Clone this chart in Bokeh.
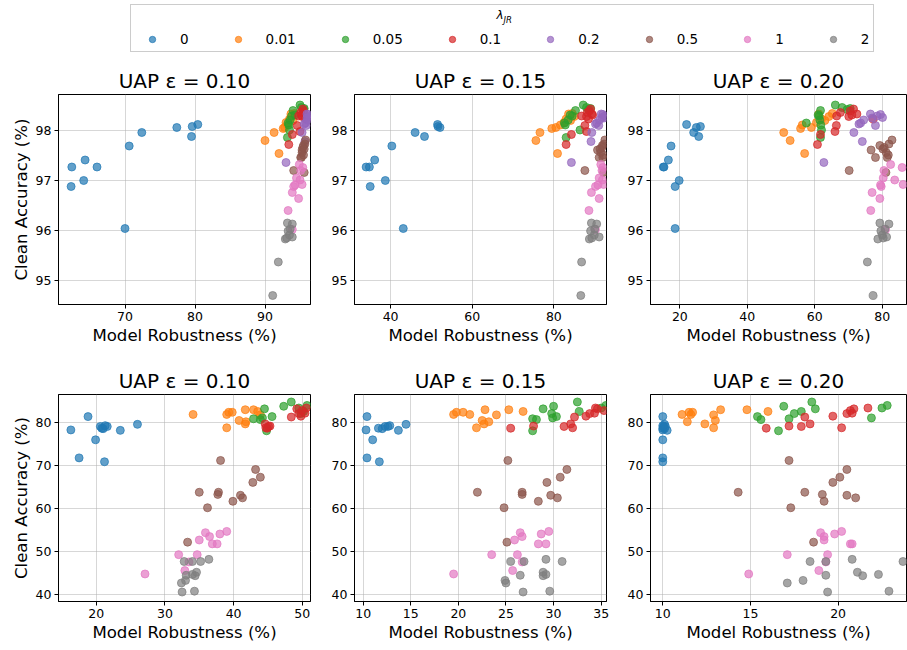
from bokeh.plotting import figure
from bokeh.layouts import column, row
from bokeh.models import Legend, LegendItem, FixedTicker, Range1d, Label
from bokeh.embed import file_html
from bokeh.resources import INLINE

# ---------------- data ----------------
LAMBDAS = ["0", "0.01", "0.05", "0.1", "0.2", "0.5", "1", "2"]
COLORS = ["#1f77b4", "#ff7f0e", "#2ca02c", "#d62728", "#9467bd", "#8c564b", "#e377c2", "#7f7f7f"]
EPS_TITLES = ["UAP ε = 0.10", "UAP ε = 0.15", "UAP ε = 0.20"]

# top row: clean accuracy (%) per lambda
top_acc = {
    "0": [97.26, 97.4, 97.26, 96.99, 96.87, 97.68, 97.95, 98.05, 98.07, 98.11, 97.87, 96.03],
    "0.01": [97.79, 97.95, 97.53, 98.03, 98.10, 98.32, 98.19, 98.27, 98.33, 98.22, 98.15, 98.05],
    "0.05": [98.14, 98.39, 98.28, 98.2, 98.1, 97.85, 98.5, 98.45, 98.41, 98.0, 98.3, 98.43],
    "0.1": [97.71, 97.91, 98.09, 98.28, 98.35, 98.27, 98.42, 98.32, 98.22, 98.38, 98.3, 97.97],
    "0.2": [97.35, 97.95, 97.77, 98.12, 98.32, 98.09, 98.31, 98.25, 98.24, 98.14, 98.2, 98.28],
    "0.5": [97.19, 97.6, 97.45, 97.69, 97.45, 97.8, 97.15, 97.72, 97.65, 97.55, 97.5, 97.62],
    "1": [97.31, 97.19, 97.25, 97.0, 97.04, 96.91, 96.87, 96.75, 96.63, 96.39, 96.01, 96.9],
    "2": [96.14, 96.12, 95.98, 95.82, 95.86, 95.9, 95.36, 94.69, 95.84, 96.02],
}
# top row: model robustness (%) for eps 0.10 / 0.15 / 0.20
top_rob_e010 = {
    "0": [62.4, 64.3, 66.0, 64.1, 62.3, 70.6, 72.4, 77.4, 79.6, 80.4, 79.5, 70.0],
    "0.01": [90.0, 91.3, 92.0, 92.6, 93.2, 93.7, 94.0, 93.8, 94.2, 93.5, 93.0, 92.8],
    "0.05": [93.3, 94.0, 93.8, 93.6, 93.4, 93.2, 95.0, 95.2, 95.5, 93.5, 94.3, 95.6],
    "0.1": [93.4, 93.9, 94.6, 94.8, 95.1, 95.3, 95.4, 95.6, 95.8, 95.5, 95.2, 95.0],
    "0.2": [93.0, 95.3, 95.7, 95.6, 96.0, 95.9, 96.2, 96.4, 96.0, 95.8, 96.1, 96.5],
    "0.5": [94.1, 95.3, 95.1, 95.5, 95.2, 95.8, 95.6, 95.7, 95.4, 95.3, 95.5, 95.6],
    "1": [94.9, 95.1, 95.4, 95.0, 94.5, 95.3, 94.1, 93.9, 94.8, 93.3, 93.9, 94.3],
    "2": [93.2, 93.9, 93.3, 92.9, 93.9, 93.5, 91.9, 91.1, 93.1, 93.6],
}
top_rob_e015 = {
    "0": [34.0, 36.1, 34.8, 38.7, 35.0, 40.3, 46.0, 52.1, 51.6, 51.5, 48.3, 43.1],
    "0.01": [75.6, 76.6, 80.9, 79.5, 81.6, 83.6, 84.1, 85.0, 84.5, 83.0, 82.5, 80.5],
    "0.05": [82.6, 85.3, 84.5, 83.5, 82.8, 83.0, 87.2, 88.0, 88.5, 86.4, 84.0, 89.0],
    "0.1": [83.0, 84.3, 87.6, 86.8, 88.2, 88.0, 89.0, 89.3, 88.5, 88.7, 89.5, 88.0],
    "0.2": [84.3, 89.3, 89.1, 90.2, 91.6, 91.0, 92.0, 91.8, 92.3, 90.5, 91.2, 92.5],
    "0.5": [87.6, 90.7, 91.1, 91.9, 92.0, 92.5, 92.2, 92.3, 91.8, 91.5, 92.1, 91.3],
    "1": [91.5, 91.8, 92.0, 91.9, 91.1, 92.2, 90.2, 89.2, 91.1, 88.6, 90.2, 90.8],
    "2": [89.2, 90.5, 89.0, 88.7, 91.1, 89.9, 86.8, 86.6, 89.3, 90.0],
}
top_rob_e020 = {
    "0": [15.1, 16.6, 15.3, 19.8, 18.6, 17.4, 24.1, 24.9, 26.1, 22.0, 25.6, 18.6],
    "0.01": [52.7, 50.8, 57.0, 55.8, 56.3, 61.2, 63.0, 64.2, 65.2, 62.0, 60.5, 59.0],
    "0.05": [57.5, 61.7, 61.3, 61.5, 61.8, 61.7, 66.1, 68.1, 69.6, 62.0, 61.0, 70.5],
    "0.1": [60.8, 61.7, 66.4, 66.5, 67.6, 70.1, 71.5, 72.5, 77.3, 70.5, 71.0, 66.0],
    "0.2": [62.7, 71.6, 74.1, 73.1, 76.5, 78.0, 79.5, 80.1, 77.0, 73.6, 74.5, 78.5],
    "0.5": [70.2, 76.7, 78.0, 79.3, 81.5, 82.9, 81.1, 82.0, 80.6, 81.2, 81.8, 80.2],
    "1": [82.5, 80.5, 85.9, 83.7, 80.3, 86.2, 79.7, 77.0, 79.3, 76.6, 81.0, 79.5],
    "2": [79.3, 82.0, 79.6, 78.7, 81.3, 80.0, 75.6, 77.3, 80.3, 80.8],
}

# bottom row: clean accuracy (%) per lambda (no 0.2 runs)
bot_acc = {
    "0": [78.2, 81.3, 75.9, 71.7, 70.8, 79.0, 78.5, 79.0, 78.6, 78.1, 79.5, 79.2],
    "0.01": [81.8, 82.3, 82.3, 81.8, 78.7, 80.4, 79.6, 80.1, 82.9, 81.7, 82.9, 82.5],
    "0.05": [83.1, 80.8, 80.6, 81.3, 78.0, 83.7, 84.7, 83.3, 83.9, 82.0, 82.5, 81.0],
    "0.1": [79.6, 78.6, 79.1, 81.2, 83.1, 82.0, 81.4, 82.1, 83.3, 82.7, 79.0, 78.7],
    "0.5": [71.1, 69.0, 67.2, 66.0, 63.7, 63.7, 63.2, 63.0, 62.4, 61.6, 60.1, 52.1],
    "1": [54.6, 54.0, 54.3, 53.4, 52.6, 51.7, 51.7, 49.2, 49.2, 45.5, 44.7, 47.5],
    "2": [47.6, 47.6, 47.6, 48.1, 45.1, 44.3, 44.4, 43.2, 42.6, 40.5, 40.7, 44.6],
}
bot_rob_e010 = {
    "0": [16.3, 18.8, 19.9, 17.5, 21.2, 20.6, 21.0, 21.6, 20.8, 23.5, 26.0, 21.3],
    "0.01": [34.1, 39.8, 39.3, 39.0, 39.0, 40.8, 41.7, 41.8, 42.9, 43.9, 41.7, 43.5],
    "0.05": [44.5, 42.9, 43.9, 45.6, 44.8, 47.3, 48.4, 49.5, 50.7, 49.8, 50.2, 44.2],
    "0.1": [44.6, 44.9, 45.3, 48.4, 49.2, 49.5, 49.8, 50.4, 50.6, 50.0, 45.1, 44.7],
    "0.5": [38.1, 43.2, 43.9, 42.8, 35.0, 37.8, 37.7, 41.0, 41.3, 39.9, 36.2, 33.3],
    "1": [39.0, 38.0, 35.9, 36.5, 35.0, 36.9, 37.6, 32.0, 34.7, 32.9, 27.1, 33.5],
    "2": [32.8, 35.2, 34.0, 36.4, 34.6, 34.4, 33.1, 33.0, 32.4, 32.5, 34.3, 34.0],
}
bot_rob_e015 = {
    "0": [10.3, 10.4, 11.0, 10.4, 11.7, 12.3, 12.0, 12.6, 11.6, 13.7, 14.5, 12.8],
    "0.01": [19.5, 19.8, 20.5, 21.2, 21.9, 22.5, 22.7, 23.2, 22.8, 24.0, 25.3, 26.8],
    "0.05": [28.9, 27.8, 28.2, 30.3, 27.8, 30.0, 32.5, 35.0, 35.5, 29.8, 32.7, 29.9],
    "0.1": [31.8, 25.5, 27.9, 32.2, 34.6, 33.8, 33.4, 34.3, 34.4, 35.3, 31.1, 32.0],
    "0.5": [25.2, 31.4, 30.7, 29.3, 22.0, 26.7, 26.7, 29.7, 30.4, 28.4, 24.8, 25.1],
    "1": [29.5, 28.7, 26.5, 26.7, 25.9, 28.4, 29.2, 23.5, 26.2, 25.7, 19.5, 26.7],
    "2": [25.5, 30.9, 26.9, 29.2, 28.9, 28.9, 26.5, 24.9, 25.0, 26.8, 29.6, 29.2],
}
bot_rob_e020 = {
    "0": [10.0, 10.0, 10.0, 10.0, 10.0, 10.05, 10.1, 10.15, 10.0, 10.25, 10.1, 10.0],
    "0.01": [11.1, 11.5, 11.7, 11.6, 12.9, 13.0, 12.4, 11.4, 13.3, 12.9, 14.8, 16.0],
    "0.05": [18.7, 17.2, 15.6, 15.4, 16.6, 16.9, 18.5, 22.5, 22.8, 17.5, 17.9, 21.9],
    "0.1": [18.4, 15.9, 17.2, 18.1, 20.9, 20.5, 19.7, 20.8, 21.7, 20.7, 17.9, 20.2],
    "0.5": [17.2, 20.5, 20.1, 19.7, 14.3, 18.1, 19.1, 20.5, 21.0, 19.2, 17.3, 18.6],
    "1": [20.2, 19.8, 19.0, 19.2, 19.2, 20.8, 20.7, 17.1, 19.4, 18.9, 14.9, 19.3],
    "2": [18.4, 23.7, 19.3, 20.8, 21.1, 21.4, 19.3, 18.0, 17.1, 19.4, 22.9, 22.3],
}

# axis ticks
TOP_YTICKS = [95, 96, 97, 98]
BOT_YTICKS = [40, 50, 60, 70, 80]
TOP_XTICKS = [[70, 80, 90], [40, 60, 80], [20, 40, 60, 80]]
BOT_XTICKS = [[20, 30, 40, 50], [10, 15, 20, 25, 30, 35], [10, 15, 20]]

# ---------------- styling / layout ----------------
FONT = "DejaVu Sans"
TOP_XR = [(60.5, 96.5), (31.15, 92.9), (11.3, 87.2)]
BOT_XR = [(14.5, 51.2), (9.09, 35.56), (9.3, 23.9)]
TOP_YR = (94.51, 98.71)
BOT_YR = (38.3, 86.44)
FRAME_W = [252, 252, 256]
BORDER_L = [58, 30, 30]
BORDER_R = [14, 14, 1]


def make_panel(i, title, acc, rob, xr, yr, xticks, yticks, fh, bt, bb):
    p = figure(frame_width=FRAME_W[i], frame_height=fh,
               min_border_left=BORDER_L[i], min_border_right=BORDER_R[i],
               min_border_top=bt, min_border_bottom=bb,
               x_range=Range1d(*xr), y_range=Range1d(*yr),
               title=title, output_backend="svg", toolbar_location=None)
    p.title.text_font = FONT
    p.title.text_font_size = "20px"
    p.title.text_font_style = "normal"
    p.title.align = "center"
    p.title.text_color = "black"
    p.title.standoff = 4
    p.outline_line_color = "black"
    p.outline_line_alpha = 1
    p.xaxis.ticker = FixedTicker(ticks=xticks)
    p.yaxis.ticker = FixedTicker(ticks=yticks)
    p.xaxis.axis_label = "Model Robustness (%)"
    if i == 0:
        p.yaxis.axis_label = "Clean Accuracy (%)"
    for ax in (p.xaxis, p.yaxis):
        ax.minor_tick_line_color = None
        ax.major_tick_in = 0
        ax.major_tick_out = 4
        ax.axis_line_color = "black"
        ax.major_tick_line_color = "black"
        ax.major_label_text_font = FONT
        ax.major_label_text_font_size = "12.5px"
        ax.major_label_text_color = "black"
        ax.major_label_standoff = 3
        ax.axis_label_text_font = FONT
        ax.axis_label_text_font_size = "16.6px"
        ax.axis_label_text_font_style = "normal"
        ax.axis_label_text_color = "black"
        ax.axis_label_standoff = 2
    p.grid.grid_line_color = "#b0b0b0"
    p.grid.grid_line_alpha = 0.5
    for lam, col in zip(LAMBDAS, COLORS):
        if lam in acc:
            p.scatter(rob[lam], acc[lam], size=8, fill_color=col, line_color=col,
                      fill_alpha=0.7, line_alpha=0.7)
    return p


top_robs = [top_rob_e010, top_rob_e015, top_rob_e020]
bot_robs = [bot_rob_e010, bot_rob_e015, bot_rob_e020]
top_row = [make_panel(i, EPS_TITLES[i], top_acc, top_robs[i], TOP_XR[i], TOP_YR,
                      TOP_XTICKS[i], TOP_YTICKS, 210, 32, 56) for i in range(3)]
bot_row = [make_panel(i, EPS_TITLES[i], bot_acc, bot_robs[i], BOT_XR[i], BOT_YR,
                      BOT_XTICKS[i], BOT_YTICKS, 207, 34, 49) for i in range(3)]

# legend strip (proxy markers lie outside the visible range)
lf = figure(width=907, height=62, min_border=0, x_range=Range1d(0, 1), y_range=Range1d(0, 1),
            x_axis_location=None, y_axis_location=None, output_backend="svg",
            toolbar_location=None)
lf.outline_line_color = None
lf.grid.visible = False
items = []
for lam, col in zip(LAMBDAS, COLORS):
    r = lf.scatter(x=[-5], y=[-5], size=8, fill_color=col, line_color=col,
                   fill_alpha=0.7, line_alpha=0.7)
    items.append(LegendItem(label=lam, renderers=[r]))
leg = Legend(items=items, orientation="horizontal", location=(130, 10),
             title=" ", title_text_font_size="18px", title_standoff=1,
             label_text_font=FONT, label_text_font_size="13.5px", label_text_color="black",
             glyph_width=34, glyph_height=16, label_height=16, label_width=0,
             label_standoff=11, spacing=32, padding=4, margin=0,
             border_line_color="#cccccc", border_line_width=1, border_line_alpha=1,
             background_fill_alpha=0)
lf.add_layout(leg, "center")
lf.add_layout(Label(x=496, y=41, x_units="screen", y_units="screen", text="λ",
                    text_font=FONT, text_font_size="12px", text_font_style="italic",
                    text_color="black"))
lf.add_layout(Label(x=503, y=38, x_units="screen", y_units="screen", text="JR",
                    text_font=FONT, text_font_size="8.5px", text_font_style="italic",
                    text_color="black"))

layout = column(lf, row(*top_row), row(*bot_row))
open("out.html", "w").write(file_html(layout, INLINE))
